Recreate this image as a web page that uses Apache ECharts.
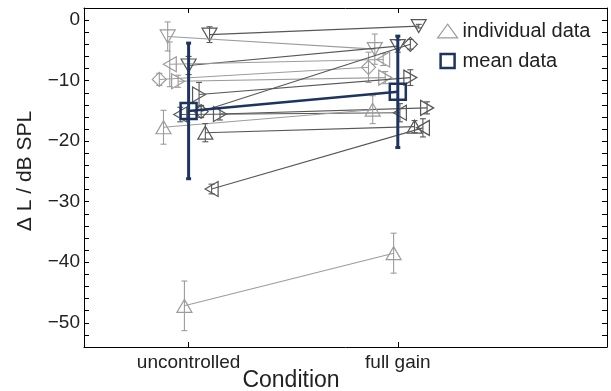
<!DOCTYPE html>
<html><head><meta charset="utf-8">
<script src="https://cdn.jsdelivr.net/npm/echarts@6/dist/echarts.min.js"></script>
<style>html,body{margin:0;padding:0;background:#fff}#c{width:611px;height:391px}</style>
</head><body><div id="c"></div>
<script>
// ---- data ----
const categories = ['uncontrolled', 'full gain'];
const categoryPositions = [1, 2];
const yTickLabels = [-50, -40, -30, -20, -10, 0];
const yTickMarks = [-54,-52,-50,-48,-46,-44,-42,-40,-38,-36,-34,-32,-30,-28,-26,-24,-22,-20,-18,-16,-14,-12,-10,-8,-6,-4,-2,0,2];

// individual subjects
const markerShape = ['down','down','down','diamond','left','right','right','diamond','left','right','up','up','left','up'];
const markerShade = ['dark','light','dark','light','light','light','dark','dark','dark','dark','light','dark','dark','light'];
const uncontrolledX   = [1.10, 0.90, 1.00, 0.86, 0.91, 0.95, 1.05, 1.06, 0.96, 1.15, 0.88, 1.08, 1.11, 0.98];
const uncontrolledY   = [-2.4, -2.7, -7.5, -9.8, -7.3, -10.1, -12.3, -15.1, -15.6, -15.5, -17.7, -18.6, -27.9, -47.2];
const uncontrolledErr = [1.3, 2.4, 1.5, 1.0, 3.7, 1.0, 2.0, 1.0, 1.2, 1.0, 2.8, 1.5, 0.8, 4.1];
const fullGainX   = [2.10, 1.89, 2.00, 1.86, 1.93, 1.94, 2.06, 2.06, 2.01, 2.14, 1.88, 2.08, 2.12, 1.98];
const fullGainY   = [-1.0, -4.8, -4.3, -7.8, -6.5, -9.5, -9.5, -4.0, -15.3, -14.5, -14.8, -17.6, -17.8, -38.5];
const fullGainErr = [0.3, 2.5, 1.0, 2.5, 1.0, 1.0, 1.3, 0.8, 1.5, 1.0, 2.3, 1.0, 1.5, 3.3];

// mean data
const meanX = [1, 2];
const meanY = [-15.0, -11.85];
const meanErr = [11.2, 9.2];

// ---- styles ----
const LIGHT = '#9c9c9c';
const DARK = '#575757';
const NAVY = '#1d3461';
const FONT = 'Liberation Sans, Arial, sans-serif';

function markerPoints(shape, cx, cy) {
  const w = 15, h = 13, d = 7;
  switch (shape) {
    case 'up': return [[cx, cy - h/2], [cx + w/2, cy + h/2], [cx - w/2, cy + h/2]];
    case 'down': return [[cx - w/2, cy - h/2], [cx + w/2, cy - h/2], [cx, cy + h/2]];
    case 'left': return [[cx - h/2, cy], [cx + h/2, cy - w/2], [cx + h/2, cy + w/2]];
    case 'right': return [[cx + h/2, cy], [cx - h/2, cy - w/2], [cx - h/2, cy + w/2]];
    default: return [[cx, cy - d], [cx + d, cy], [cx, cy + d], [cx - d, cy]];
  }
}

function errBar(api, x, y, e, col, lw, cap) {
  const t = api.coord([x, y + e]), b = api.coord([x, y - e]);
  return [
    {type:'line', shape:{x1:t[0], y1:t[1], x2:b[0], y2:b[1]}, style:{stroke:col, lineWidth:lw}},
    {type:'line', shape:{x1:t[0]-cap, y1:t[1], x2:t[0]+cap, y2:t[1]}, style:{stroke:col, lineWidth:lw}},
    {type:'line', shape:{x1:b[0]-cap, y1:b[1], x2:b[0]+cap, y2:b[1]}, style:{stroke:col, lineWidth:lw}}
  ];
}

const indivData = uncontrolledX.map((x, i) => [x, uncontrolledY[i], uncontrolledErr[i], fullGainX[i], fullGainY[i], fullGainErr[i]]);
const meanData = meanX.map((x, i) => [x, meanY[i], meanErr[i]]);

const chart = echarts.init(document.getElementById('c'), null, {renderer:'canvas'});

const axisLineStyle = {show:true, onZero:false, lineStyle:{color:'#000', width:1}};

chart.setOption({
  animation: false,
  backgroundColor: '#fff',
  textStyle: {fontFamily: FONT},
  grid: {left:84, right:4, top:8, bottom:44, containLabel:false},
  legend: {
    orient: 'vertical', left: 437, top: 21, padding: 0, itemGap: 10,
    itemWidth: 20, itemHeight: 14,
    textStyle: {fontSize: 20, color: '#222', fontFamily: FONT, lineHeight: 20},
    data: [
      {name:'individual data', icon:'path://M9.5,0L19,13L0,13Z', itemStyle:{color:'rgba(0,0,0,0)', borderColor:LIGHT, borderWidth:1.2}},
      {name:'mean data', icon:'path://M0,0H14V14H0Z', itemStyle:{color:'rgba(0,0,0,0)', borderColor:NAVY, borderWidth:2.5}}
    ]
  },
  xAxis: [
    {type:'value', min:0.5, max:3, position:'bottom', axisLine:axisLineStyle, splitLine:{show:false},
     axisTick:{show:true, inside:true, length:5, customValues:categoryPositions, lineStyle:{color:'#000'}},
     axisLabel:{show:true, customValues:categoryPositions, margin:6, fontSize:19, color:'#222', fontFamily:FONT,
       formatter: v => categories[categoryPositions.indexOf(v)] || ''}},
    {type:'value', min:0.5, max:3, position:'top', axisLine:axisLineStyle, splitLine:{show:false},
     axisTick:{show:true, inside:true, length:5, customValues:categoryPositions, lineStyle:{color:'#000'}},
     axisLabel:{show:false}}
  ],
  yAxis: [
    {type:'value', min:-54, max:2, position:'left', axisLine:axisLineStyle, splitLine:{show:false},
     axisTick:{show:true, inside:true, length:5, customValues:yTickMarks, lineStyle:{color:'#000'}},
     axisLabel:{show:true, customValues:yTickLabels, margin:4, fontSize:19, color:'#222', fontFamily:FONT,
       formatter: v => String(v).replace('-', '\u2212')}},
    {type:'value', min:-54, max:2, position:'right', axisLine:axisLineStyle, splitLine:{show:false},
     axisTick:{show:true, inside:true, length:5, customValues:yTickMarks, lineStyle:{color:'#000'}},
     axisLabel:{show:false}}
  ],
  graphic: [
    {type:'text', x:25, y:171, rotation:Math.PI/2, style:{text:'\u0394 L / dB SPL', fontSize:21, fill:'#222', fontFamily:FONT, textAlign:'center', textVerticalAlign:'middle'}},
    {type:'text', x:291, y:381, style:{text:'Condition', fontSize:23, fill:'#222', fontFamily:FONT, textAlign:'center', textVerticalAlign:'middle'}}
  ],
  series: [
    {
      name:'individual data', type:'custom', z:2, xAxisIndex:0, yAxisIndex:0,
      data: indivData,
      renderItem(params, api) {
        const i = params.dataIndex;
        const col = markerShade[i] === 'dark' ? DARK : LIGHT;
        const p1 = api.coord([api.value(0), api.value(1)]);
        const p2 = api.coord([api.value(3), api.value(4)]);
        const children = [{type:'line', shape:{x1:p1[0], y1:p1[1], x2:p2[0], y2:p2[1]}, style:{stroke:col, lineWidth:1.1}}];
        [[0,1,2],[3,4,5]].forEach(([xi, yi, ei]) => {
          const x = api.value(xi), y = api.value(yi), e = api.value(ei);
          errBar(api, x, y, e, col, 1.1, 3).forEach(c => children.push(c));
          const c = api.coord([x, y]);
          children.push({type:'polygon', shape:{points:markerPoints(markerShape[i], c[0], c[1])}, style:{fill:'none', stroke:col, lineWidth:1.2}});
        });
        return {type:'group', children};
      }
    },
    {
      name:'mean data', type:'line', z:3, data: meanData.map(d => [d[0], d[1]]),
      symbol:'none', lineStyle:{color:NAVY, width:2.5}, itemStyle:{color:NAVY}
    },
    {
      name:'mean data', type:'custom', z:4, data: meanData,
      renderItem(params, api) {
        const x = api.value(0), y = api.value(1), e = api.value(2);
        const children = errBar(api, x, y, e, NAVY, 3, 2.5);
        const c = api.coord([x, y]);
        children.push({type:'rect', shape:{x:c[0]-8, y:c[1]-8, width:16, height:16}, style:{fill:'none', stroke:NAVY, lineWidth:2.5}});
        return {type:'group', children};
      }
    }
  ]
});
</script></body></html>
